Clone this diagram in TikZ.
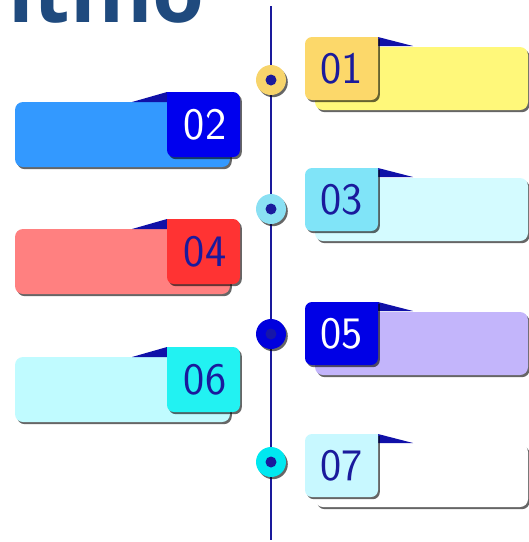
\documentclass[tikz,border=0pt]{standalone}
\usepackage{fontspec}
\newfontfamily\titlefont{Open Sans}
\usetikzlibrary{shadows}

\definecolor{titleblue}{HTML}{1F4A7E}
\definecolor{axis}{HTML}{1A1A9C}
\definecolor{flag}{HTML}{1010A8}
\definecolor{darktxt}{HTML}{1A1A9C}
\definecolor{tabA}{HTML}{FCD86A}\definecolor{mainA}{HTML}{FFF87A}
\definecolor{tabB}{HTML}{0000EE}\definecolor{mainB}{HTML}{3399FF}
\definecolor{tabC}{HTML}{80E4F8}\definecolor{mainC}{HTML}{D4FBFF}
\definecolor{tabD}{HTML}{FF3333}\definecolor{mainD}{HTML}{FF8080}
\definecolor{tabE}{HTML}{0000E6}\definecolor{mainE}{HTML}{C3B5FB}
\definecolor{tabF}{HTML}{22F2F2}\definecolor{mainF}{HTML}{C0FBFF}
\definecolor{tabG}{HTML}{C8F8FF}\definecolor{mainG}{HTML}{FFFFFF}
\definecolor{ringA}{HTML}{F7D46B}
\definecolor{ringC}{HTML}{8AE0F3}
\definecolor{ringE}{HTML}{0000DD}
\definecolor{ringG}{HTML}{00E8F0}

% card on the right of the axis: #1 top, #2 tab, #3 body, #4 digits, #5 label
\newcommand\rightcard[5]{%
  \fill[#3, cardshade, rounded corners=8pt] (315,#1+10) rectangle (528,#1+73);
  \fill[flag] (378,#1) -- (413,#1+9) -- (378,#1+9) -- cycle;
  \fill[#2, cardshade] (378,#1) [rounded corners=7pt] -- (305,#1) -- (305,#1+63)
        -- (378,#1+63) [sharp corners] -- cycle;
  \node[numtxt, text=#4] (n#5) at (341.5,#1+31.5) {#5};}

% card on the left of the axis
\newcommand\leftcard[5]{%
  \fill[#3, cardshade, rounded corners=8pt] (15,#1+10) rectangle (230,#1+75);
  \fill[flag] (167,#1) -- (132,#1+10) -- (167,#1+10) -- cycle;
  \fill[#2, cardshade] (167,#1) [rounded corners=7pt] -- (240,#1) -- (240,#1+65)
        -- (167,#1+65) [sharp corners] -- cycle;
  \node[numtxt, text=#4] (n#5) at (205,#1+32.5) {#5};}

\begin{document}
\begin{tikzpicture}[x=1pt,y=-1pt,
  cardshade/.style={drop shadow={shadow xshift=1.8pt,shadow yshift=-2.2pt,opacity=.6,fill=black}},
  numtxt/.style={font=\fontsize{45}{45}\selectfont\sffamily, inner sep=0pt},
  ring/.style={circle, inner sep=0pt, minimum size=30pt, cardshade},
  dot/.style={circle, inner sep=0pt, minimum size=11pt, fill=axis}]
\useasboundingbox (0,0) rectangle (529,542);
\clip (0,0) rectangle (529,542);

\node[anchor=base west, text=titleblue, inner sep=0pt,
      font=\titlefont\bfseries\fontsize{84}{84}\selectfont] (title) at (8,22) {ltmo};

% the time axis
\coordinate (top) at (271,6);
\coordinate (bottom) at (271,540);
\draw[axis, line width=1.8pt] (top) -- (bottom);

\node[ring, fill=ringA] (c1) at (271,80) {};
\node[dot] (d1) at (c1) {};
\node[ring, fill=ringC] (c3) at (271,209) {};
\node[dot] (d3) at (c3) {};
\node[ring, fill=ringE] (c5) at (271,334) {};
\node[dot, fill=axis!80!ringE] (d5) at (c5) {};
\node[ring, fill=ringG] (c7) at (271,462) {};
\node[dot] (d7) at (c7) {};

\rightcard{37}{tabA}{mainA}{darktxt}{01}
\leftcard{92}{tabB}{mainB}{white}{02}
\rightcard{168}{tabC}{mainC}{darktxt}{03}
\leftcard{219}{tabD}{mainD}{darktxt}{04}
\rightcard{302}{tabE}{mainE}{white}{05}
\leftcard{347}{tabF}{mainF}{darktxt}{06}
\rightcard{434}{tabG}{mainG}{darktxt}{07}
\end{tikzpicture}
\end{document}
